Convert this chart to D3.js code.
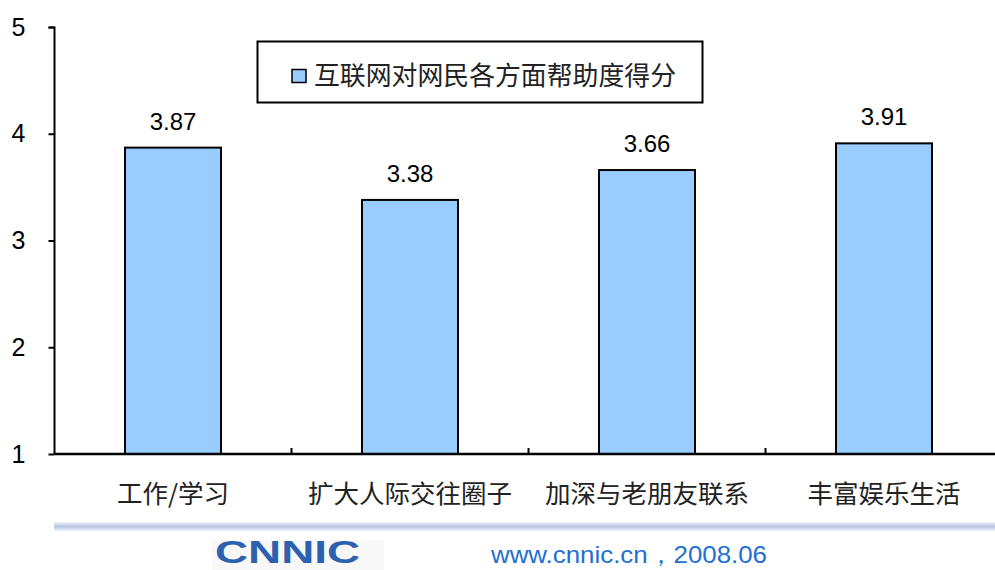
<!DOCTYPE html>
<html><head><meta charset="utf-8">
<script src="https://cdn.jsdelivr.net/npm/d3@7"></script>
<style>html,body{margin:0;padding:0;background:#fff;overflow:hidden}</style>
</head><body><svg id="c" width="995" height="570"></svg>
<script>
const categories = ["工作/学习","扩大人际交往圈子","加深与老朋友联系","丰富娱乐生活"];
const values = [3.87, 3.38, 3.66, 3.91];
const seriesName = "互联网对网民各方面帮助度得分";
const yTicks = [1,2,3,4,5];
const footerUrl = "www.cnnic.cn，2008.06";

const svg = d3.select("#c");
const cjk = "'SimSun','Noto Sans CJK SC',sans-serif";
const latin = "Arial,'Liberation Sans',sans-serif";

const x = d3.scaleBand().domain(categories).range([54.5, 1002.5]).paddingInner(0.595).paddingOuter(0.2975);
const y = d3.scaleLinear().domain([1,5]).range([454, 27]);

// bars
svg.append("g").selectAll("rect").data(values).join("rect")
  .attr("x",(d,i)=>x(categories[i])).attr("width",x.bandwidth())
  .attr("y",d=>y(d)).attr("height",d=>y(1)-y(d))
  .attr("fill","#99ccff").attr("stroke","#000").attr("stroke-width",2);

// value labels
svg.append("g").selectAll("text").data(values).join("text")
  .attr("x",(d,i)=>x(categories[i])+x.bandwidth()/2).attr("y",d=>y(d)-18)
  .attr("text-anchor","middle").attr("font-family",latin).attr("font-size",24)
  .text(d=>d.toFixed(2));

// y axis
const ya = svg.append("g").attr("transform","translate(54.5,0)")
  .call(d3.axisLeft(y).tickValues(yTicks).tickSize(6).tickFormat(d3.format("d")));
ya.attr("font-size",null).attr("font-family",null);
ya.select(".domain").attr("stroke","#000").attr("stroke-width",2).attr("d","M-6,27.5H0V454");
ya.selectAll(".tick line").attr("stroke","#000").attr("stroke-width",2);
ya.selectAll(".tick text").attr("x",-36).attr("text-anchor","middle")
  .style("font-family",latin).style("font-size","25px").attr("fill","#000");

// x axis
const xa = svg.append("g").attr("transform","translate(0,454)")
  .call(d3.axisBottom(x).tickSize(0).tickPadding(27));
xa.attr("font-size",null).attr("font-family",null);
xa.select(".domain").attr("stroke","#000").attr("stroke-width",2.5).attr("d","M54.5,0H1005");
xa.selectAll(".tick text").style("font-family",cjk).style("font-size","25.5px").attr("fill","#222").attr("dy","0.85em");
// category separator ticks
const bounds = categories.slice(1).map(c=>x(c)-x.step()*x.paddingInner()/2);
svg.append("g").selectAll("line").data(bounds).join("line")
  .attr("x1",d=>d).attr("x2",d=>d).attr("y1",448).attr("y2",454)
  .attr("stroke","#000").attr("stroke-width",2);

// legend
const lg = svg.append("g");
lg.append("rect").attr("x",257.5).attr("y",41.5).attr("width",445).attr("height",61)
  .attr("fill","#fff").attr("stroke","#000").attr("stroke-width",2);
lg.append("rect").attr("x",292).attr("y",69.5).attr("width",14).attr("height",13)
  .attr("fill","#99ccff").attr("stroke","#000").attr("stroke-width",1.5);
lg.append("text").attr("x",314).attr("y",85).attr("font-family",cjk).attr("font-size",26.5).attr("fill","#222")
  .attr("textLength",362).attr("lengthAdjust","spacingAndGlyphs")
  .text(seriesName);

// footer separator
const defs = svg.append("defs");
const gr = defs.append("linearGradient").attr("id","sep").attr("x1",0).attr("x2",0).attr("y1",0).attr("y2",1);
gr.append("stop").attr("offset","0%").attr("stop-color","#f2f5fa");
gr.append("stop").attr("offset","50%").attr("stop-color","#b7c7e3");
gr.append("stop").attr("offset","100%").attr("stop-color","#f2f5fa");
svg.append("rect").attr("x",54).attr("y",522).attr("width",941).attr("height",9).attr("fill","url(#sep)");

// logo
svg.append("rect").attr("x",212).attr("y",540).attr("width",172).attr("height",30).attr("fill","#f8f8f8");
svg.append("text").attr("x",215).attr("y",563).attr("font-family",latin).attr("font-weight","bold")
  .attr("font-size",31).attr("fill","#2e60b0").attr("textLength",145).attr("lengthAdjust","spacingAndGlyphs")
  .text("CNNIC");

// url
svg.append("text").attr("x",491).attr("y",563).attr("font-family",latin).attr("font-size",24).attr("fill","#1f6fd0")
  .attr("textLength",276).attr("lengthAdjust","spacingAndGlyphs")
  .text(footerUrl);
</script></body></html>
